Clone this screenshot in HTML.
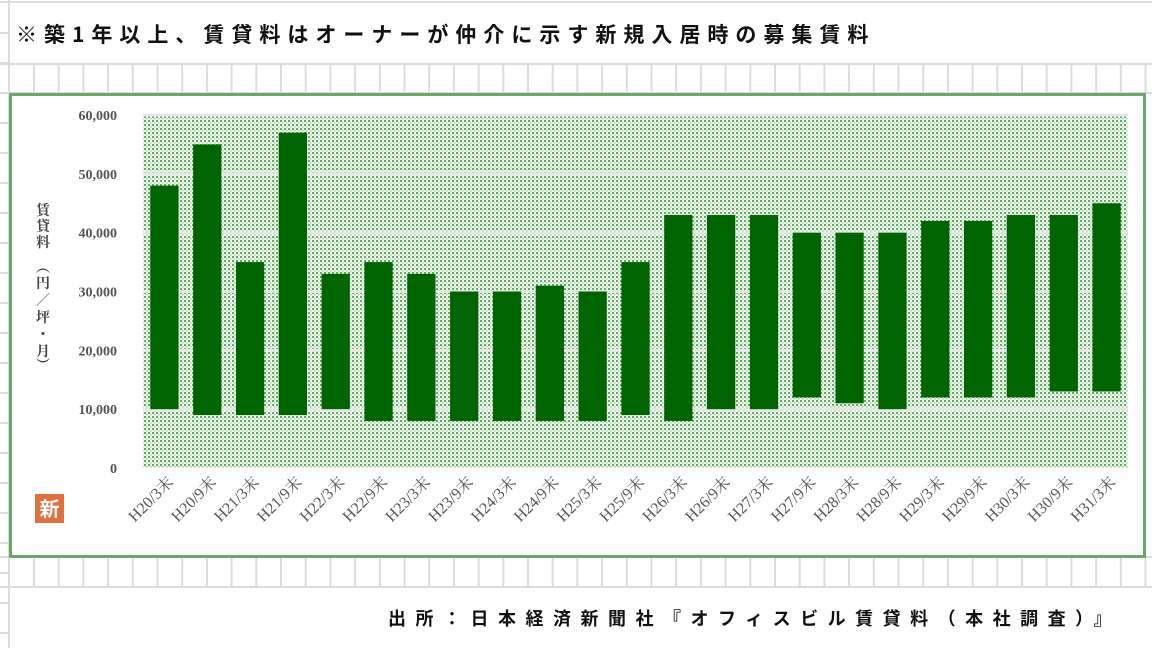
<!DOCTYPE html>
<html><head><meta charset="utf-8"><style>
body{margin:0;width:1152px;height:648px;overflow:hidden;background:#fff;font-family:"Liberation Sans","Noto Sans CJK JP",sans-serif}
svg text{font-family:"Liberation Serif","Noto Serif CJK SC",serif}
</style></head><body>
<svg id="c" width="1152" height="648" xmlns="http://www.w3.org/2000/svg">
<defs>
<pattern id="dots" width="4" height="4" patternUnits="userSpaceOnUse">
<rect x="0" y="0" width="4" height="4" fill="#f4faf4"/>
<rect x="0" y="0" width="2" height="2" fill="#5fae5f"/>
<rect x="2" y="2" width="1.5" height="1.5" fill="#9fd09f"/>
</pattern>
</defs>
<g id="sheet"></g>
<text x="16" y="42" font-size="21" font-weight="bold" fill="#111" letter-spacing="7" style="font-family:'Noto Sans CJK JP',sans-serif">※築1年以上、賃貸料はオーナーが仲介に示す新規入居時の募集賃料</text>
<rect x="10.5" y="94.5" width="1134" height="462" fill="#fff" stroke="#6aa86a" stroke-width="3"/>
<g id="plot"></g>
<g font-size="14" font-weight="bold" fill="#444" style="font-family:'Noto Sans CJK JP',sans-serif">
<text x="43" y="215" text-anchor="middle">賃</text><text x="43" y="231" text-anchor="middle">貸</text><text x="43" y="247" text-anchor="middle">料</text>
<text x="43" y="272" text-anchor="middle">︵</text><text x="43" y="288" text-anchor="middle">円</text><text x="43" y="305" text-anchor="middle">／</text><text x="43" y="322" text-anchor="middle">坪</text><text x="43" y="339" text-anchor="middle">・</text><text x="43" y="356" text-anchor="middle">月</text><text x="43" y="370" text-anchor="middle">︶</text>
</g>
<rect x="35" y="494" width="29" height="29" fill="#e0703c"/>
<text x="49.5" y="516" font-size="20" font-weight="bold" fill="#fff" text-anchor="middle" style="font-family:'Noto Sans CJK JP',sans-serif">新</text>
<text x="388" y="625" font-size="18" font-weight="bold" fill="#111" letter-spacing="9.5" style="font-family:'Noto Sans CJK JP',sans-serif">出所：日本経済新聞社『オフィスビル賃貸料（本社調査）』</text>
</svg>
<script>
const categories=["H20/3末","H20/9末","H21/3末","H21/9末","H22/3末","H22/9末","H23/3末","H23/9末","H24/3末","H24/9末","H25/3末","H25/9末","H26/3末","H26/9末","H27/3末","H27/9末","H28/3末","H28/9末","H29/3末","H29/9末","H30/3末","H30/9末","H31/3末"];
const highValues=[48000,55000,35000,57000,33000,35000,33000,30000,30000,31000,30000,35000,43000,43000,43000,40000,40000,40000,42000,42000,43000,43000,45000];
const lowValues=[10000,9000,9000,9000,10000,8000,8000,8000,8000,8000,8000,9000,8000,10000,10000,12000,11000,10000,12000,12000,12000,13000,13000];
const yTicks=[0,10000,20000,30000,40000,50000,60000];
const tickLabels=["0","10,000","20,000","30,000","40,000","50,000","60,000"];

const NS="http://www.w3.org/2000/svg";
function mk(p,t,a){const e=document.createElementNS(NS,t);for(const k in a)e.setAttribute(k,a[k]);p.appendChild(e);return e;}
const sh=document.getElementById('sheet');
const gl={stroke:"#dcdcdc","stroke-width":2};
mk(sh,'line',Object.assign({x1:9,y1:0,x2:9,y2:648},gl));
[2,64,93,557,587].forEach(y=>mk(sh,'line',Object.assign({x1:0,y1:y,x2:1152,y2:y},gl)));
for(let x=34;x<1152;x+=24.7){
  mk(sh,'line',Object.assign({x1:x,y1:64,x2:x,y2:93},gl));
  mk(sh,'line',Object.assign({x1:x,y1:557,x2:x,y2:587},gl));
}
for(let y=33;y<648;y+=30){mk(sh,'line',Object.assign({x1:0,y1:y,x2:9,y2:y},gl));}

const X0=143,X1=1128,Y0=468,Y1=115,YMAX=60000;
const y=v=>Y0-(v/YMAX)*(Y0-Y1);
const band=(X1-X0)/categories.length;
const xc=i=>X0+band*(i+0.5);
const plot=document.getElementById('plot');
const bg=mk(plot,'rect',{x:X0,y:Y1,width:X1-X0,height:Y0-Y1,fill:"url(#dots)"});


yTicks.forEach((t,i)=>{
  if(t>0){const g=mk(plot,'line',{x1:X0,x2:X1,y1:y(t),y2:y(t),stroke:"#e6e6e6","stroke-width":3});
  
  }
  const tx=mk(plot,'text',{x:117,y:y(t)+5,"text-anchor":"end","font-size":14,"font-weight":"bold",fill:"#555","font-family":"Liberation Mono, monospace"});
  tx.textContent=tickLabels[i];
  
  
});
const bw=band*0.66;
categories.forEach((c,i)=>{
  const r=mk(plot,'rect',{x:xc(i)-bw/2,y:y(highValues[i]),width:bw,height:y(lowValues[i])-y(highValues[i]),fill:"#006400"});
  
  
  const t=mk(plot,'text',{x:0,y:0,"text-anchor":"end","font-size":16,fill:"#555",transform:`translate(${xc(i)+10},${483}) rotate(-45)`});
  t.textContent=c;
  
  
});
</script>
</body></html>
